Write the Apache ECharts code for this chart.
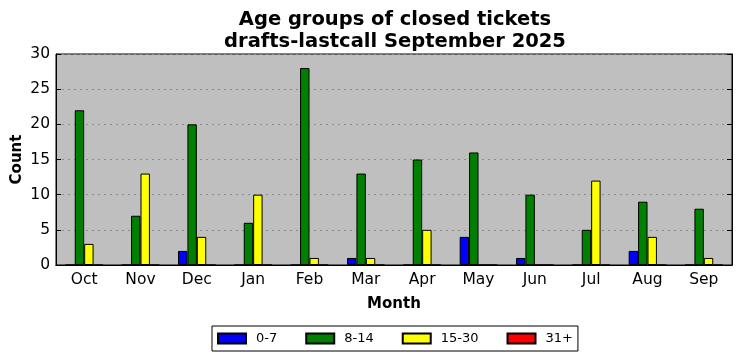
<!DOCTYPE html>
<html>
<head>
<meta charset="utf-8">
<script src="https://cdn.jsdelivr.net/npm/echarts@6/dist/echarts.min.js"></script>
<style>html,body{margin:0;padding:0;background:#fff}#c{width:742px;height:361px}</style>
</head>
<body>
<div id="c"></div>
<script>
const months = ['Oct','Nov','Dec','Jan','Feb','Mar','Apr','May','Jun','Jul','Aug','Sep'];
const age0to7   = [0, 0, 2, 0, 0, 1, 0, 4, 1, 0, 2, 0];
const age8to14  = [22, 7, 20, 6, 28, 13, 15, 16, 10, 5, 9, 8];
const age15to30 = [3, 13, 4, 10, 1, 1, 5, 0, 0, 12, 4, 1];
const age31plus = [0, 0, 0, 0, 0, 0, 0, 0, 0, 0, 0, 0];
const yTicks = [0, 5, 10, 15, 20, 25, 30];

const font = 'DejaVu Sans';
function bar(name, data, color) {
  return {
    name: name, type: 'bar', data: data, barWidth: '16.7%', barGap: '0%',
    itemStyle: { color: color, borderColor: '#000', borderWidth: 1 },
    emphasis: { disabled: true }
  };
}
const chart = echarts.init(document.getElementById('c'), null, { renderer: 'canvas' });
chart.setOption({
  animation: false,
  backgroundColor: '#fff',
  title: {
    text: 'Age groups of closed tickets\ndrafts-lastcall September 2025',
    left: 390, top: 4, textAlign: 'center',
    textStyle: { fontFamily: font, fontWeight: 'bold', fontSize: 19.5, color: '#000', lineHeight: 22 }
  },
  legend: {
    left: 212, top: 326, padding: [6, 5, 6, 5],
    itemWidth: 28, itemHeight: 10, itemGap: 28, icon: 'rect',
    borderColor: '#000', borderWidth: 1, backgroundColor: '#fff',
    textStyle: { fontFamily: font, fontSize: 13, color: '#000', padding: [0, 0, 0, 5] },
    data: ['0-7', '8-14', '15-30', '31+']
  },
  grid: { left: 56, top: 54, width: 676, height: 211, show: true, backgroundColor: '#bfbfbf', borderColor: '#000', borderWidth: 1, outerBoundsMode: 'none', containLabel: false },
  xAxis: [{
    type: 'category', data: months, position: 'bottom',
    name: 'Month', nameLocation: 'middle', nameGap: 32, nameMoveOverlap: false,
    nameTextStyle: { fontFamily: font, fontWeight: 'bold', fontSize: 15, color: '#000' },
    axisLine: { lineStyle: { color: '#000', width: 1 } },
    axisTick: { inside: true, alignWithLabel: true, length: 5, lineStyle: { color: '#000' } },
    axisLabel: { fontFamily: font, fontSize: 15.5, color: '#000', margin: 7 },
    splitLine: { show: false }
  }, {
    type: 'category', data: months, position: 'top',
    axisLine: { lineStyle: { color: '#000', width: 1 } },
    axisTick: { inside: true, alignWithLabel: true, length: 5, lineStyle: { color: '#000' } },
    axisLabel: { show: false }, splitLine: { show: false }
  }],
  yAxis: [{
    type: 'value', min: 0, max: 30, interval: 5, position: 'left',
    name: 'Count', nameLocation: 'middle', nameGap: 31, nameRotate: 90, nameMoveOverlap: false,
    nameTextStyle: { fontFamily: font, fontWeight: 'bold', fontSize: 15, color: '#000' },
    axisLine: { show: true, lineStyle: { color: '#000', width: 1 } },
    axisTick: { show: true, inside: true, length: 5, lineStyle: { color: '#000' } },
    axisLabel: { fontFamily: font, fontSize: 15.5, color: '#000', margin: 6,
      formatter: v => yTicks.includes(v) ? String(v) : '' },
    splitLine: { show: true, lineStyle: { color: '#8c8c8c', type: [2, 4], width: 1 } }
  }, {
    type: 'value', min: 0, max: 30, interval: 5, position: 'right',
    axisLine: { show: true, lineStyle: { color: '#000', width: 1 } },
    axisTick: { show: true, inside: true, length: 5, lineStyle: { color: '#000' } },
    axisLabel: { show: false }, splitLine: { show: false }
  }],
  series: [
    bar('0-7', age0to7, '#0000ff'),
    bar('8-14', age8to14, '#008000'),
    bar('15-30', age15to30, '#ffff00'),
    bar('31+', age31plus, '#ff0000')
  ]
});
</script>
</body>
</html>
